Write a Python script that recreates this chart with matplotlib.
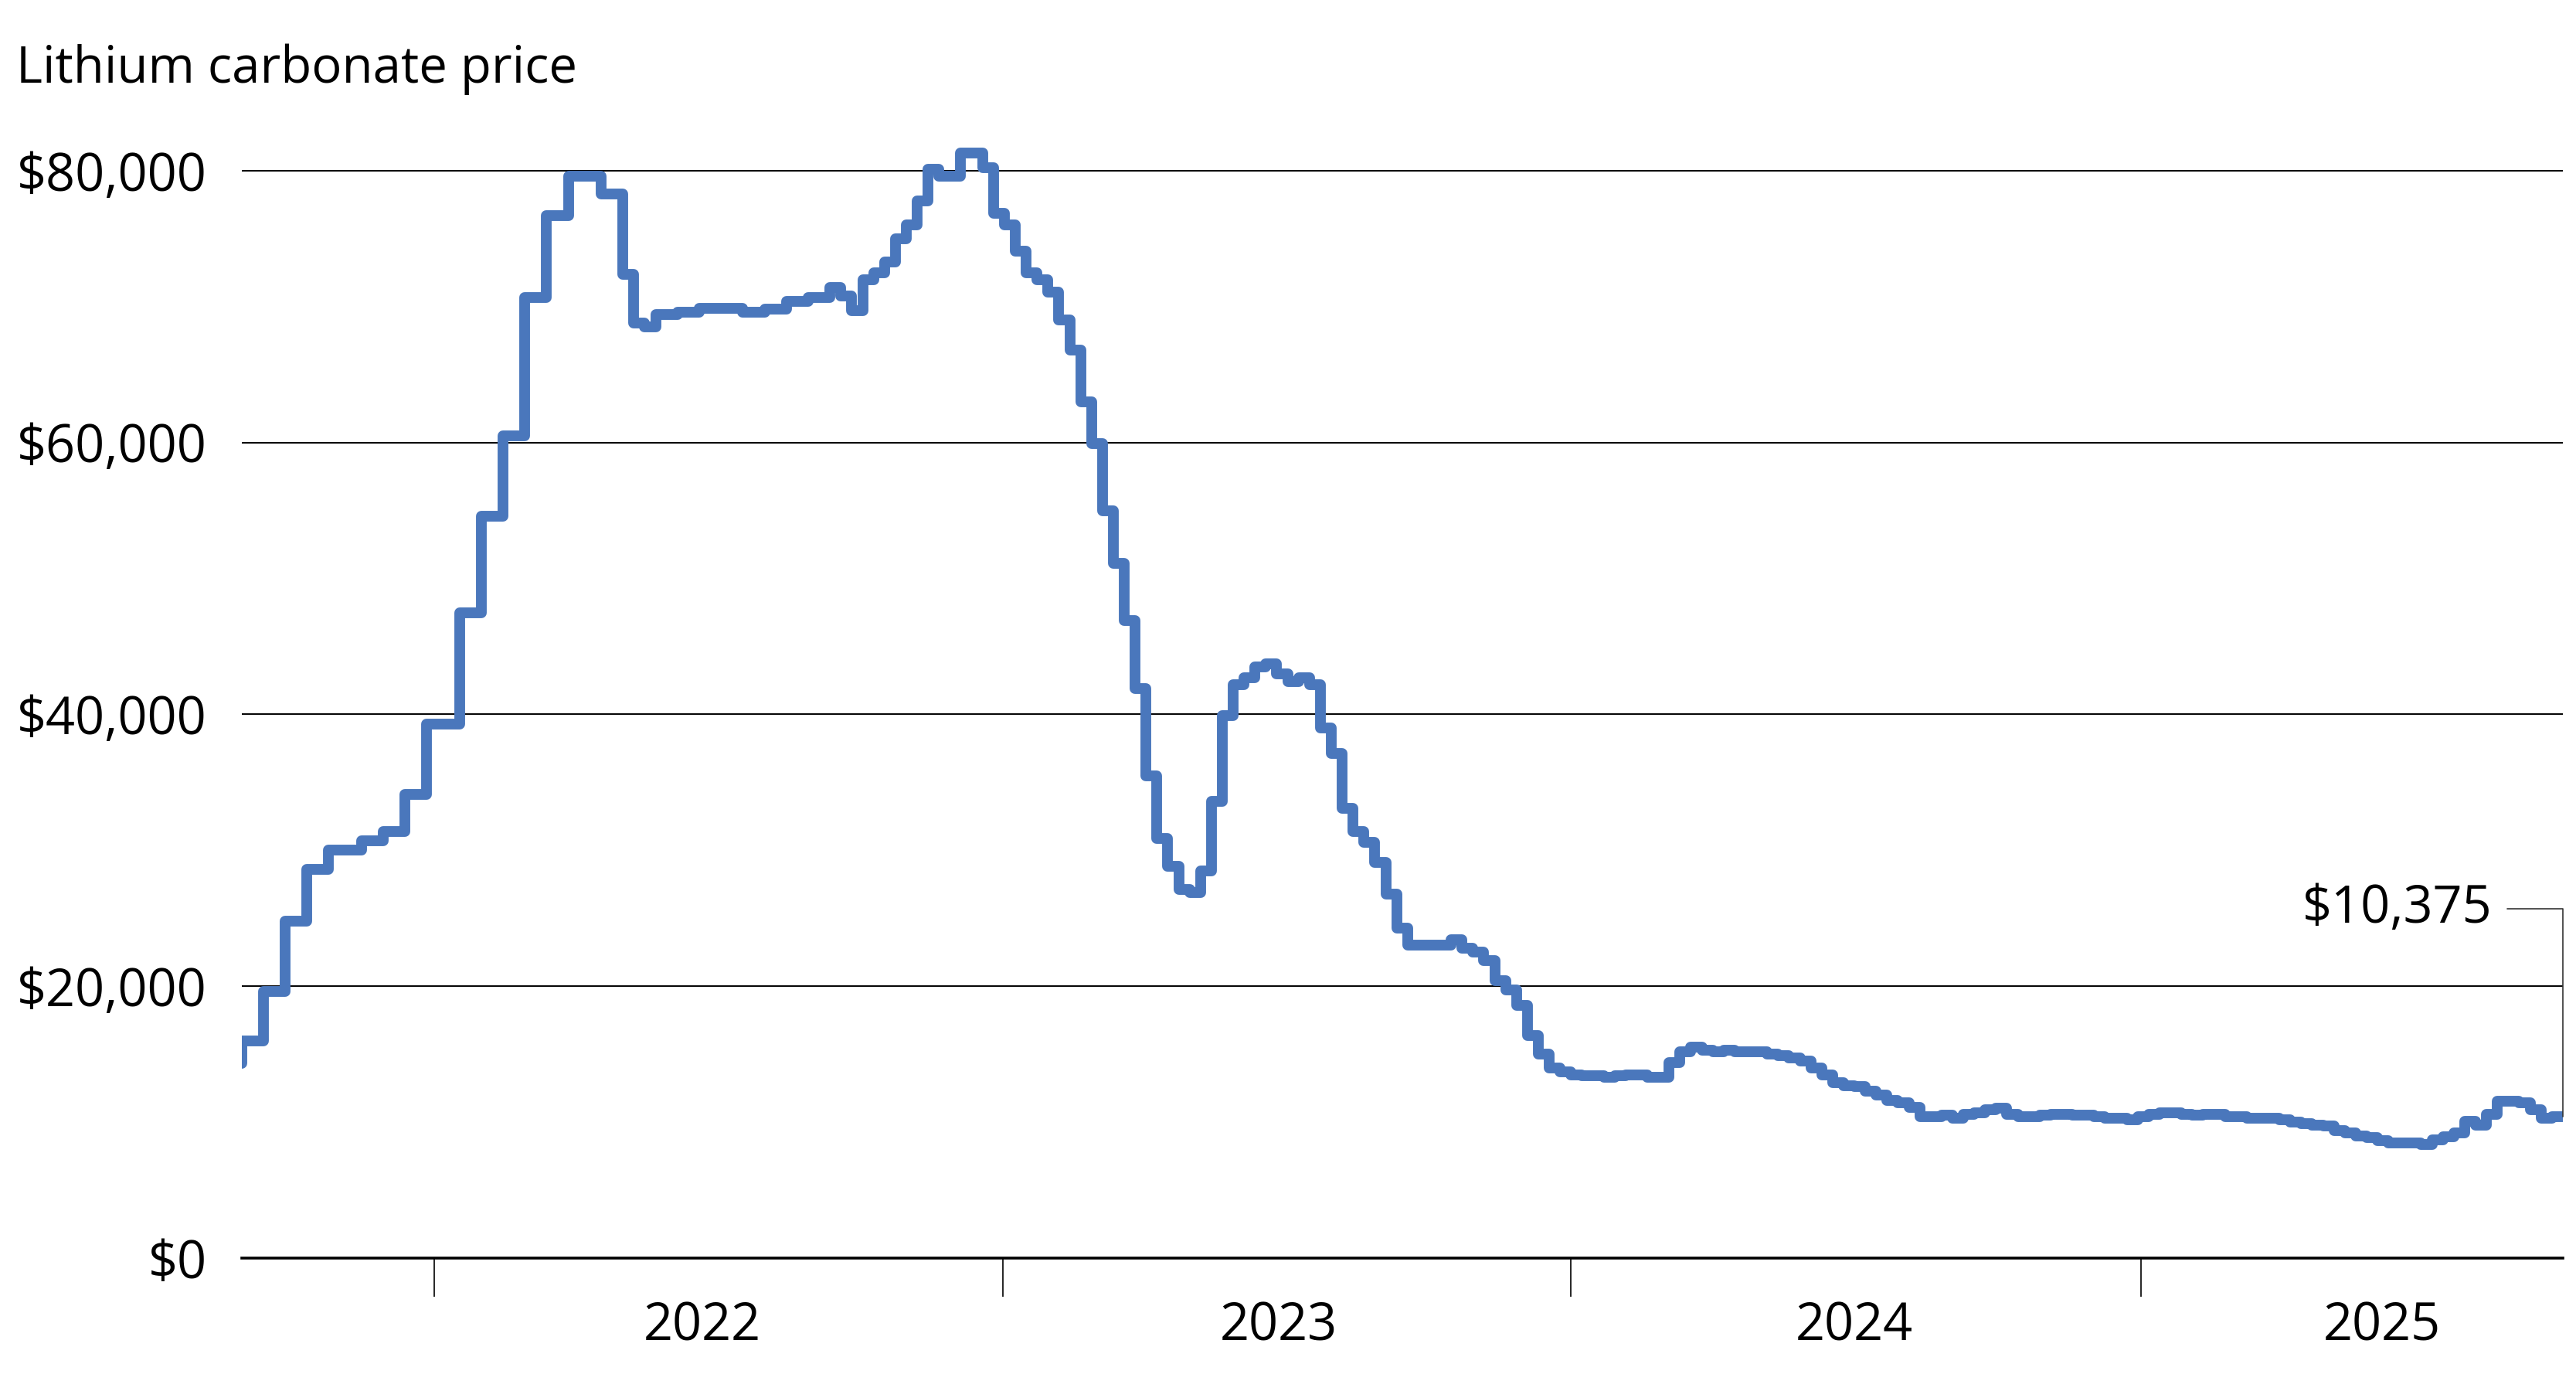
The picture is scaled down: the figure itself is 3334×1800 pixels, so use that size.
import pandas as pd
import matplotlib
matplotlib.use('Agg')
import matplotlib.pyplot as plt
from matplotlib.ticker import FuncFormatter

plt.rcParams['font.family'] = ['Open Sans', 'DejaVu Sans']

# weekly lithium carbonate price (USD/t), week starting 2021-08-30
prices_2021 = [14300, 16000, 16000, 19600, 19600, 24800, 24800, 28600, 28600,
               30000, 30000, 30000, 30700, 30700, 31400, 31400, 34100, 34100]
prices_2022 = [39300, 39300, 39300, 47500, 47500, 54600, 54600, 60500, 60500,
               70700, 70700, 76700, 76700, 79600, 79600, 79600, 78300, 78300,
               72400, 68800, 68500, 69400, 69400, 69600, 69600, 69900, 69900,
               69900, 69900, 69600, 69600, 69800, 69800, 70400, 70400, 70700,
               70700, 71400, 70800, 69700, 72000, 72500, 73300, 75000, 76000,
               77800, 80100, 79600, 79600, 81300, 81300, 80200]
prices_2023 = [76900, 76000, 74100, 72500, 72000, 71100, 69000, 66800, 63000,
               59900, 55000, 51100, 46900, 41900, 35500, 30900, 28800, 27100,
               26900, 28500, 33600, 39900, 42200, 42700, 43500, 43700, 43000,
               42400, 42700, 42200, 39000, 37100, 33100, 31400, 30600, 29100,
               26800, 24300, 23000, 23000, 23000, 23000, 23400, 22800, 22500,
               21900, 20400, 19700, 18600, 16400, 15000, 14000]
prices_2024 = [13700, 13500, 13400, 13400, 13300, 13400, 13500, 13500, 13300,
               13300, 14400, 15200, 15500, 15300, 15200, 15300, 15200, 15200,
               15200, 15000, 14900, 14700, 14500, 14000, 13500, 12900, 12700,
               12600, 12300, 12000, 11600, 11400, 11100, 10400, 10400, 10500,
               10300, 10600, 10700, 10900, 11000, 10600, 10400, 10400, 10500,
               10600, 10600, 10500, 10500, 10400, 10300, 10300, 10200]
prices_2025 = [10400, 10600, 10700, 10700, 10600, 10500, 10600, 10600, 10400,
               10400, 10300, 10300, 10300, 10200, 10000, 9900, 9750, 9700,
               9400, 9200, 9000, 8850, 8650, 8450, 8450, 8450, 8350, 8700,
               8900, 9200, 10050, 9750, 10600, 11550, 11550, 11450, 10900,
               10300, 10375]
start_date = '2021-08-30'

year_ticks = ['2022-01-01', '2023-01-01', '2024-01-01', '2025-01-01']
year_labels = ['2022', '2023', '2024', '2025']
year_label_pos = ['2022-06-22', '2023-06-27', '2024-07-01', '2025-06-05']
y_ticks = [0, 20000, 40000, 60000, 80000]

prices = prices_2021 + prices_2022 + prices_2023 + prices_2024 + prices_2025
dates = pd.date_range(start_date, periods=len(prices), freq='7D')

fig = plt.figure(figsize=(16.67, 9.0), dpi=200)
ax = fig.add_axes([0.09375, 0.0956, 0.9011, 0.8334])

ax.plot(dates, prices, drawstyle='steps-pre', color='#4a77bc', lw=5,
        solid_joinstyle='round', solid_capstyle='round', zorder=3)

ax.set_xlim(dates[0], dates[-1])
ax.set_ylim(0, 85300)

# y axis: gridlines only, dollar labels
ax.set_yticks(y_ticks)
ax.yaxis.set_major_formatter(FuncFormatter(lambda v, p: f'${v:,.0f}'))
ax.tick_params(axis='y', length=0, pad=16, labelsize=24)
ax.grid(axis='y', color='black', lw=0.7)
ax.set_axisbelow(True)
for s in ['top', 'right', 'left']:
    ax.spines[s].set_visible(False)
ax.spines['bottom'].set_linewidth(1.3)

# x axis: ticks at year boundaries, labels mid-year
ax.set_xticks(pd.to_datetime(year_ticks))
ax.set_xticklabels([])
ax.tick_params(axis='x', which='major', length=18, width=0.6, color='black')
ax.set_xticks(pd.to_datetime(year_label_pos), minor=True)
ax.set_xticklabels(year_labels, minor=True)
ax.tick_params(axis='x', which='minor', length=0, pad=20, labelsize=24)

# last value callout
ax.annotate(f'${prices[-1]:,.0f}', xy=(dates[-1], prices[-1]),
            xytext=(-33, 97), textcoords='offset points',
            ha='right', va='center', fontsize=24,
            arrowprops=dict(arrowstyle='-', color='#333333', lw=0.6,
                            shrinkA=5, shrinkB=0,
                            connectionstyle='angle,angleA=0,angleB=90,rad=0'),
            annotation_clip=False)

fig.text(0.0064, 0.950, 'Lithium carbonate price', fontsize=23.5,
         ha='left', va='center')

fig.savefig('out.png', dpi=200)
